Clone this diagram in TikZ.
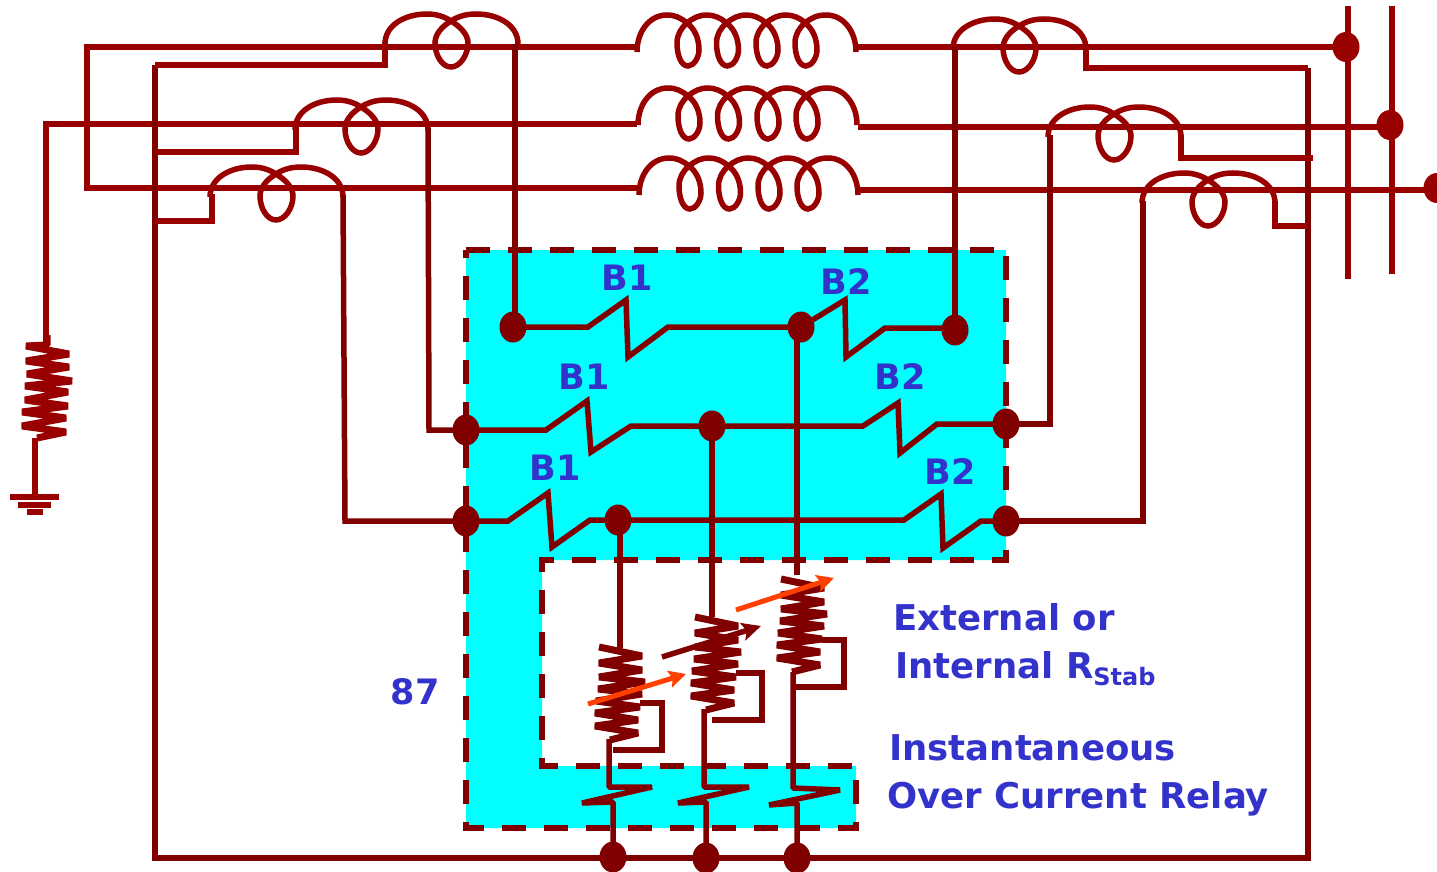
\documentclass[tikz,border=0pt]{standalone}
\usepackage{fontspec}
\setmainfont{DejaVu Sans}
\usetikzlibrary{shapes.geometric,arrows.meta}
\definecolor{wireA}{HTML}{990000}
\definecolor{wireB}{HTML}{800000}
\definecolor{zone}{HTML}{00FFFF}
\definecolor{lab}{HTML}{3333CC}
\definecolor{adj}{HTML}{FF4000}
\tikzset{
  x=1pt,y=-1pt,
  wa/.style={draw=wireA,line width=6pt,line join=miter},
  wc/.style={draw=wireA,line width=5.5pt},
  wb/.style={draw=wireB,line width=5.5pt,line join=miter},
  wz/.style={draw=wireB,line width=7pt,line join=bevel},
  dota/.style={ellipse,fill=wireA,inner sep=0pt,minimum width=27pt,minimum height=30pt},
  dotb/.style={ellipse,fill=wireB,inner sep=0pt,minimum width=27pt,minimum height=31pt},
  zonefill/.style={fill=zone},
  zoneedge/.style={draw=wireB,line width=5.5pt,dash pattern=on 24pt off 18pt},
  tlab/.style={text=lab,font=\fontsize{35}{35}\selectfont\bfseries,inner sep=0pt},
  blab/.style={text=lab,font=\fontsize{35.5}{35.5}\selectfont\bfseries,inner sep=0pt,anchor=west},
  ctcoil/.pic={\draw[wc] (0,-3) .. controls (0,-22) and (20,-33) .. (42,-33) .. controls (52,-33) and (60,-30) .. (66,-26) .. controls (76,-20) and (83,-12) .. (83,-4) .. controls (83,8) and (75,20) .. (66,20) .. controls (57,20) and (50,8) .. (50,-4) .. controls (50,-12) and (56,-20) .. (66,-26) .. controls (72,-30) and (80,-33) .. (91,-33) .. controls (113,-33) and (133,-22) .. (133,-3);},
  maincoil/.pic={
    \draw[wc] (0,5) .. controls (0,-15) and (12,-32) .. (30,-32) .. controls (38,-32) and (44,-29) .. (50,-24);
    \foreach \d in {0,39.5,79,118}{
      \draw[wc,shift={(\d,0)}] (50,-24) .. controls (58,-18) and (62,-8) .. (62,3) .. controls (62,10) and (57,19) .. (51,19) .. controls (44,19) and (40,8) .. (40,-4) .. controls (40,-12) and (44,-19) .. (50,-24);
    }
    \foreach \d in {0,39.5,79}{
      \draw[wc,shift={(\d,0)}] (50,-24) .. controls (56,-29) and (62,-32) .. (70,-32) .. controls (77,-32) and (84,-29) .. (89.5,-24);
    }
    \draw[wc] (168,-24) .. controls (174,-29) and (180,-32) .. (189,-32) .. controls (207,-32) and (219,-15) .. (219,5);
  },
  zigres/.pic={\draw[wz] (0,0)--(43,9)--(0,16)--(43,23)--(0,30)--(46,35)--(-1,42)--(43,47)--(-3,54)--(41,60)--(-4,66)--(39,73)--(-4,79)--(39,86)--(11,93);}
}
\begin{document}
\begin{tikzpicture}
\useasboundingbox (0,0) rectangle (1437,872);
% protected zone
\path[zonefill] (466,250)--(1006,250)--(1006,560)--(542,560)--(542,766)--(856,766)--(856,828)--(466,828)--cycle;
\path[zoneedge] (466,250)--(1006,250)--(1006,560)--(542,560)--(542,766)--(856,766)--(856,828)--(466,828)--cycle;
% junction points
\node[dota] (bus1) at (1346,47) {};
\node[dota] (bus2) at (1390,125) {};
\node[dota] (bus3) at (1437,188) {};
\node[dotb] (a1) at (513,327) {};
\node[dotb] (m1) at (801,327) {};
\node[dotb] (b1) at (955,330) {};
\node[dotb] (a2) at (466,430) {};
\node[dotb] (m2) at (712,426) {};
\node[dotb] (b2) at (1006,424) {};
\node[dotb] (a3) at (466,521) {};
\node[dotb] (m3) at (618,520) {};
\node[dotb] (b3) at (1006,521) {};
\node[dotb] (r1) at (613,857) {};
\node[dotb] (r2) at (706,858) {};
\node[dotb] (r3) at (797,858) {};
% bus bars
\coordinate (bb1t) at (1348,6); \coordinate (bb1b) at (1348,279);
\coordinate (bb2t) at (1392,6); \coordinate (bb2b) at (1392,274);
\draw[wc] (bb1t)--(bb1b);
\draw[wc] (bb2t)--(bb2b);
% main lines
\draw[wa] (637,47)--(87,47)--(87,188)--(637,188);
\draw[wa] (637,124)--(46,124)--(46,345);
\draw[wa] (858,47)--(bus1.center);
\draw[wa] (858,127)--(1390,127)--(bus2.center);
\draw[wa] (860,190)--(1437,190)--(bus3.center);
\pic at (637,47) {maincoil};
\pic at (638,120) {maincoil};
\pic at (639,190) {maincoil};
\pic at (385,47) {ctcoil};
\pic at (295,133) {ctcoil};
\pic at (210,200) {ctcoil};
\pic at (953,52) {ctcoil};
\pic at (1048,140) {ctcoil};
\pic at (1142,206) {ctcoil};
% CT secondary return
\draw[wb] (155,65)--(155,858)--(1308,858)--(1308,68);
\draw[wa] (385,42)--(385,65)--(155,65);
\draw[wa] (296,127)--(296,152)--(155,152);
\draw[wa] (212,194)--(212,221)--(155,221);
\draw[wa] (1086,47)--(1086,68)--(1308,68);
\draw[wa] (1181,135)--(1181,158)--(1313,158);
\draw[wa] (1275,201)--(1275,226)--(1308,226);
% CT to relay
\draw[wb] (515,44)--(515,325);
\draw[wb] (428,128)--(429,430)--(a2.center);
\draw[wb] (343,195)--(345,521)--(a3.center);
\draw[wb] (955,47)--(b1.center);
\draw[wb] (1050,135)--(1050,424)--(b2.center);
\draw[wb] (1143,201)--(1143,521)--(b3.center);
% biased windings
\draw[wb] (a1.center)--(588,327)--(626,300)--(628,357)--(668,327)--(m1.center);
\draw[wb] (m1.center)--(845,300)--(846,357)--(885,328)--(945,328);
\draw[wb] (a2.center)--(546,430)--(587,401)--(591,452)--(631,426)--(m2.center);
\draw[wb] (m2.center)--(863,426)--(898,403)--(900,453)--(937,424)--(b2.center);
\draw[wb] (a3.center)--(508,521)--(548,493)--(552,547)--(590,520)--(m3.center);
\draw[wb] (m3.center)--(904,520)--(941,494)--(943,548)--(981,521)--(b3.center);
% to stabilising resistors
\draw[wb] (m1.center) ++(-4,0) -- ++(0,248);
\draw[wb] (m2.center) -- (712,617);
\draw[wb] (m3.center) ++(2,0) -- ++(0,128);
\pic at (599,647) {zigres};
\pic at (695,617) {zigres};
\pic at (781,579) {zigres};
\draw[wb] (640,703)--(662,703)--(662,750)--(613,750);
\draw[wb] (736,673)--(762,673)--(762,720)--(712,720);
\draw[wb] (822,640)--(844,640)--(844,687)--(793,687);
% instantaneous elements
\draw[wb,line join=bevel] (609,739)--(609,787)--(652,787)--(582,803)--(613,802)--(r1.center);
\draw[wb,line join=bevel] (704,709)--(704,787)--(749,787)--(678,803)--(706,802)--(r2.center);
\draw[wb,line join=bevel] (793,672)--(793,788)--(840,790)--(769,805)--(797,803)--(r3.center);
% adjustable arrows
\draw[draw=wireB,line width=5.5pt,-{Stealth[length=19pt,width=18pt,inset=4pt]}] (662,657)--(761,626);
\draw[draw=adj,line width=5pt,-{Stealth[length=17pt,width=17pt,inset=3pt]}] (588,704)--(686,674);
\draw[draw=adj,line width=5pt,-{Stealth[length=17pt,width=17pt,inset=3pt]}] (736,610)--(834,578);
% earth
\draw[draw=wireA,line width=7pt,line join=bevel] (47,335)--(47,345)--(26,346)--(69,354)--(26,361)--(69,367)--(27,374)--(72,381)--(25,386)--(68,392)--(25,400)--(68,406)--(22,412)--(66,418)--(22,426)--(66,432)--(37,438);
\draw[wa] (35,438)--(35,497);
\draw[wa] (10,497)--(59,497);
\draw[wa] (18,504.5)--(51,504.5);
\draw[wa] (27,512)--(43,512);
% labels
\node[tlab] (l1) at (627,278) {B1};
\node[tlab] (l2) at (846,282) {B2};
\node[tlab] (l3) at (584,377) {B1};
\node[tlab] (l4) at (900,377) {B2};
\node[tlab] (l5) at (555,468) {B1};
\node[tlab] (l6) at (950,472) {B2};
\node[tlab] (l7) at (415,692) {87};
\node[blab] (t1) at (893,617) {External or};
\node[blab] (t2) at (895,669) {Internal R\raisebox{-7pt}{\fontsize{24}{24}\selectfont Stab}};
\node[blab] (t3) at (889,748) {Instantaneous};
\node[blab] (t4) at (887,799) {Over Current Relay};
\end{tikzpicture}
\end{document}
